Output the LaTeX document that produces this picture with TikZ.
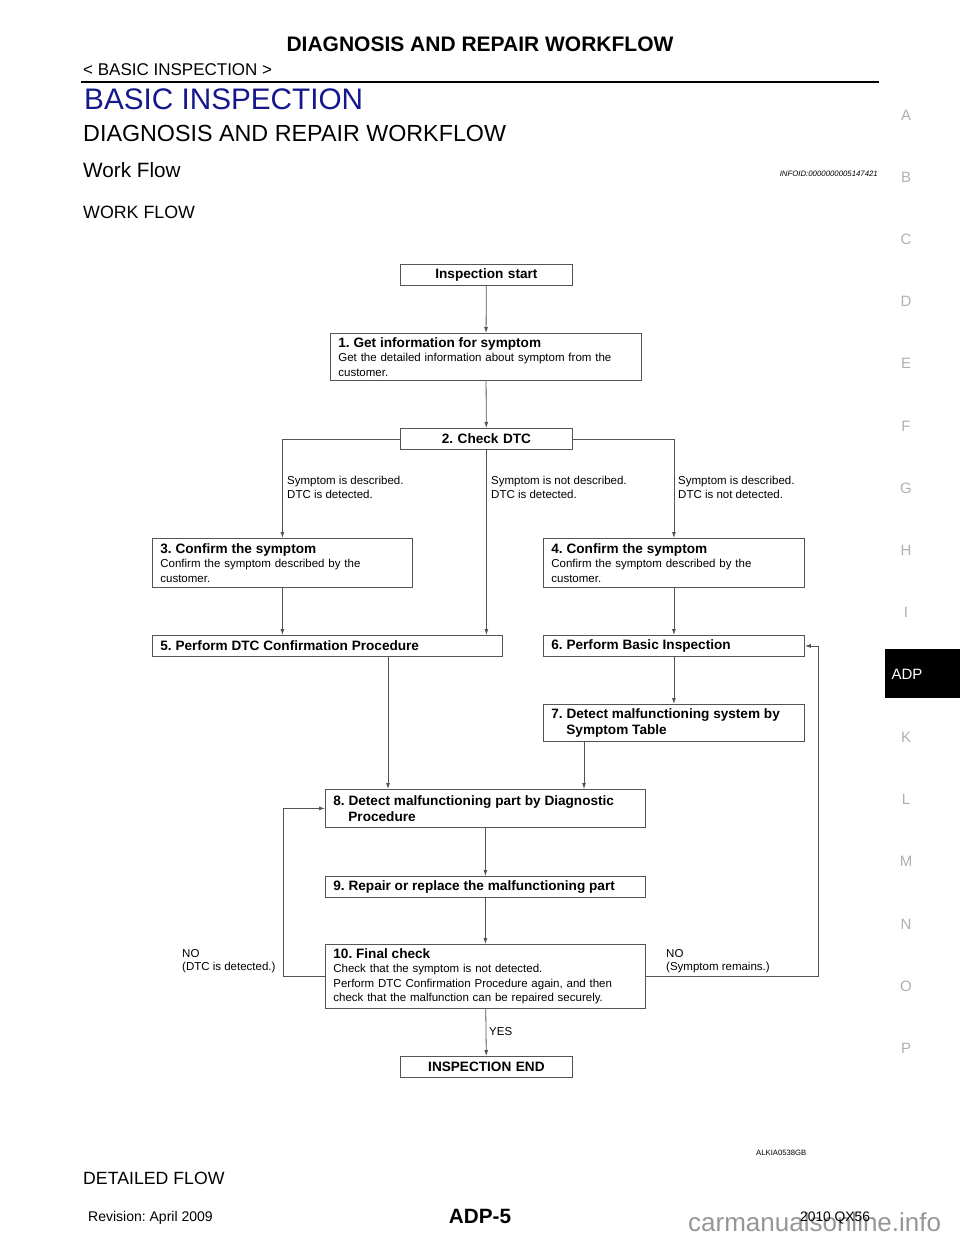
\documentclass[tikz,border=0pt]{standalone}
\usepackage{fontspec}
\setmainfont{Liberation Sans}
\usetikzlibrary{arrows.meta}
\definecolor{navy}{RGB}{20,24,140}
\definecolor{sidegray}{RGB}{175,175,175}
\definecolor{linecol}{RGB}{85,85,85}
\definecolor{wmgray}{RGB}{150,150,150}
\newcommand{\fs}[2]{\fontsize{#1}{#2}\selectfont}
\newcommand{\ttl}[1]{{\fs{13.6}{14.5}\bfseries #1}}
\tikzset{
  box/.style={draw=linecol, line width=0.8pt, rectangle, anchor=north west,
    inner xsep=8pt, inner ysep=0pt, align=left, font=\fs{11.5}{14.5}},
  cbox/.style={box, align=center, font=\fs{13.6}{16}\bfseries},
  arr/.style={draw=linecol, line width=0.8pt, -{Latex[length=6pt,width=4pt]}},
  lbl/.style={anchor=west, align=left, inner sep=0pt, font=\fs{11.5}{13.5}},
  txt/.style={anchor=west, inner sep=0pt},
  side/.style={text=sidegray, font=\fs{15}{15}, inner sep=0pt},
}
\frenchspacing
\begin{document}
\frenchspacing
\begin{tikzpicture}[x=1pt,y=-1pt]
\useasboundingbox (0,0) rectangle (960,1242);
% ---- header ----
\node[font=\fs{21}{21}\bfseries, inner sep=0pt] (title) at (480,44) {DIAGNOSIS AND REPAIR WORKFLOW};
\node[txt, font=\fs{17}{17}] (sect) at (83,70) {< BASIC INSPECTION >};
\draw[line width=2.5pt] (81,82) -- (879,82);
\node[txt, font=\fs{29.7}{30}, text=navy] (h1) at (84,99) {BASIC INSPECTION};
\node[txt, font=\fs{23.3}{24}] (h2) at (83,133) {DIAGNOSIS AND REPAIR WORKFLOW};
\node[txt, font=\fs{20.7}{21}] (h3) at (83,170) {Work Flow};
\node[anchor=east, inner sep=0pt, font=\fs{7.8}{8}\itshape] (infoid) at (878,174) {INFOID:0000000005147421};
\node[txt, font=\fs{17.8}{18}] (h4) at (83,212) {WORK FLOW};
% ---- side index ----
\node[side] (sA) at (906,115) {A};
\node[side] (sB) at (906,177) {B};
\node[side] (sC) at (906,239) {C};
\node[side] (sD) at (906,301) {D};
\node[side] (sE) at (906,363) {E};
\node[side] (sF) at (906,426) {F};
\node[side] (sG) at (906,488) {G};
\node[side] (sH) at (906,550) {H};
\node[side] (sI) at (906,612) {I};
\fill[black] (885,649) rectangle (960,698);
\node[side, text=white] (sADP) at (907,674) {ADP};
\node[side] (sK) at (906,737) {K};
\node[side] (sL) at (906,799) {L};
\node[side] (sM) at (906,861) {M};
\node[side] (sN) at (906,924) {N};
\node[side] (sO) at (906,986) {O};
\node[side] (sP) at (906,1048) {P};
% ---- boxes ----
\node[cbox, text width=156pt, minimum height=21pt] (start) at (400,264) {Inspection start};
\node[box, text width=295pt, minimum height=47pt] (b1) at (330,333)
  {\ttl{1. Get information for symptom}\\Get the detailed information about symptom from the\\customer.};
\node[cbox, text width=156pt, minimum height=21pt] (b2) at (400,428) {2. Check DTC};
\node[box, text width=244pt, minimum height=49pt] (b3) at (152,538)
  {\ttl{3. Confirm the symptom}\\Confirm the symptom described by the\\customer.};
\node[box, text width=245pt, minimum height=49pt] (b4) at (543,538)
  {\ttl{4. Confirm the symptom}\\Confirm the symptom described by the\\customer.};
\node[box, text width=334pt, minimum height=21pt] (b5) at (152,635) {\ttl{5. Perform DTC Confirmation Procedure}};
\node[box, text width=245pt, minimum height=21pt] (b6) at (543,635) {\ttl{6. Perform Basic Inspection}};
\node[box, text width=245pt, minimum height=37pt] (b7) at (543,704)
  {\ttl{7. Detect malfunctioning system by}\\[1.5pt]\hspace*{15pt}\ttl{Symptom Table}};
\node[box, text width=304pt, minimum height=38pt] (b8) at (325,789)
  {\ttl{8. Detect malfunctioning part by Diagnostic}\\[1.5pt]\hspace*{15pt}\ttl{Procedure}};
\node[box, text width=304pt, minimum height=21pt] (b9) at (325,876) {\ttl{9. Repair or replace the malfunctioning part}};
\node[box, text width=304pt, minimum height=64pt] (b10) at (325,944)
  {\ttl{10. Final check}\\Check that the symptom is not detected.\\Perform DTC Confirmation Procedure again, and then\\check that the malfunction can be repaired securely.};
\node[cbox, text width=156pt, minimum height=21pt] (end) at (400,1056) {INSPECTION END};
% ---- connectors ----
\coordinate (c5) at (388,656);
\coordinate (c7) at (584,741);
\draw[arr] (start) -- (b1);
\draw[arr] (b1) -- (b2);
\draw[arr] (b2.west) -| (b3.north);
\draw[arr] (b2.east) -| (b4.north);
\draw[arr] (b2.south) -- (b2.south |- b5.north);
\draw[arr] (b3.south) -- (b3.south |- b5.north);
\draw[arr] (b4) -- (b6);
\draw[arr] (b6) -- (b7);
\draw[arr] (c5) -- (c5 |- b8.north);
\draw[arr] (c7) -- (c7 |- b8.north);
\draw[arr] (b8) -- (b9);
\draw[arr] (b9) -- (b10);
\draw[arr] (b10) -- (end);
\draw[arr] (b10.west) -- ++(-42,0) |- (b8.west);
\draw[arr] (b10.east) -- ++(173,0) |- (b6.east);
% ---- connector labels ----
\node[lbl] (l1) at (287,487.5) {Symptom is described.\\DTC is detected.};
\node[lbl] (l2) at (491,487.5) {Symptom is not described.\\DTC is detected.};
\node[lbl] (l3) at (678,487.5) {Symptom is described.\\DTC is not detected.};
\node[lbl] (l4) at (182,961) {NO\\(DTC is detected.)};
\node[lbl] (l5) at (666,961) {NO\\(Symptom remains.)};
\node[lbl] (l6) at (489,1032) {YES};
% ---- footer ----
\node[txt, font=\fs{7.7}{8}] (fig) at (756,1153) {ALKIA0538GB};
\node[txt, font=\fs{17.7}{18}] (h5) at (83,1178) {DETAILED FLOW};
\node[txt, font=\fs{14}{14}] (rev) at (88,1218) {Revision: April 2009};
\node[font=\fs{20.7}{21}\bfseries, inner sep=0pt] (page) at (480,1216) {ADP-5};
\node[txt, font=\fs{26}{26}, text=wmgray] (wm) at (688,1222) {carmanualsonline.info};
\node[txt, font=\fs{13.8}{14}] (model) at (800,1218) {2010 QX56};
\end{tikzpicture}
\end{document}
